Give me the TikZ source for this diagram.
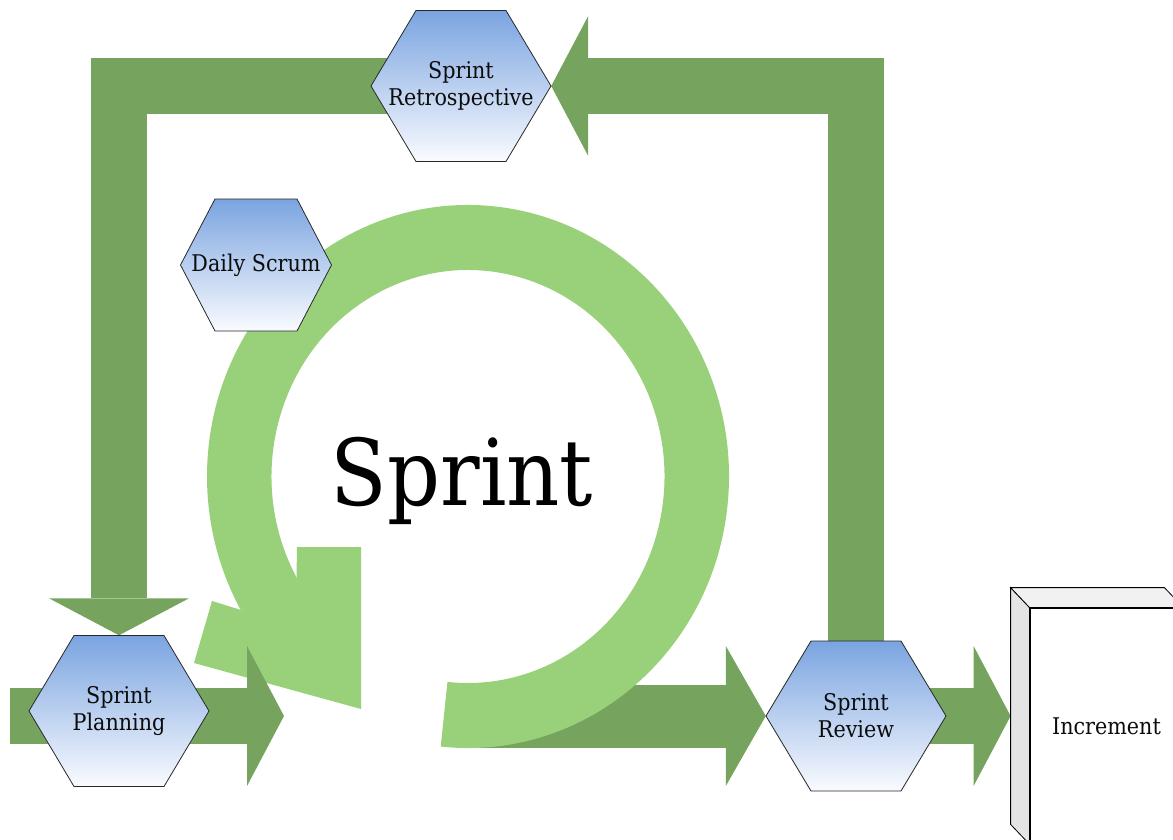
\documentclass[tikz,border=0pt]{standalone}
\usepackage{fontspec}
\setmainfont{DejaVu Serif}[FakeStretch=0.9]
\usetikzlibrary{arrows.meta,calc}

\pgfdeclarelayer{under}
\pgfsetlayers{under,main}

\definecolor{flowgreen}{RGB}{118,163,93}
\definecolor{ringgreen}{RGB}{153,208,122}
\definecolor{hextop}{RGB}{122,164,224}
\definecolor{hexbottom}{RGB}{250,251,255}
\definecolor{hexline}{RGB}{40,40,40}
\definecolor{sidegray}{RGB}{228,228,228}
\definecolor{topgray}{RGB}{241,241,241}
\definecolor{inkblack}{RGB}{12,12,12}

\tikzset{
  flow/.style={draw=flowgreen, line width=56pt, line cap=butt, line join=miter,
    -{Triangle[length=37pt,width=140pt,line width=0pt]}},
  hextext/.style={font=\fontsize{23}{27}\selectfont, align=center, text=inkblack,
    inner sep=0pt, shape=rectangle},
  hexshade/.style={top color=hextop, bottom color=hexbottom, draw=hexline, line width=0.8pt},
  incbox/.style={draw=black, fill=white, line width=0.8pt, inner sep=0pt,
    minimum width=153pt, minimum height=236pt, font=\fontsize{23}{27}\selectfont, text=inkblack},
  faceline/.style={draw=black, line width=0.8pt, line join=miter},
}

% hexagon with a flat top: name, x, y, half width, half top edge, half height, text
\newcommand\hexnode[7]{%
  \shade[hexshade] (#2-#4,#3) -- (#2-#5,#3-#6) -- (#2+#5,#3-#6) -- (#2+#4,#3)
    -- (#2+#5,#3+#6) -- (#2-#5,#3+#6) -- cycle;
  \node[hextext, minimum width=2*#4, minimum height=2*#6] (#1) at (#2,#3) {#7};
}

\begin{document}
\begin{tikzpicture}[x=1pt,y=-1pt]
\useasboundingbox (0,0) rectangle (1173,840);
\clip (0,0) rectangle (1173,840);

% events
\hexnode{retro}{461}{86}{90}{45}{75.5}{Sprint\\Retrospective}
\hexnode{daily}{256}{265}{75.5}{41}{66}{Daily Scrum}
\hexnode{planning}{119}{711}{90}{45}{75.5}{Sprint\\Planning}
\hexnode{review}{856}{716}{90}{45}{75}{Sprint\\Review}

\node[font=\fontsize{92}{100}\selectfont, text=black, anchor=base, inner sep=0pt]
  (sprint) at (462,505) {Sprint};

% increment box with its side and top faces
\node[incbox] (inc) at (1106.5,726) {Increment};
\path[faceline, fill=sidegray] (inc.north west) -- ++(-19,-20)
  -- ($(inc.south west)+(-19,-20)$) -- (inc.south west) -- cycle;
\path[faceline, fill=topgray] (inc.north west) -- ++(-19,-20)
  -- ($(inc.north east)+(-19,-20)$) -- (inc.north east) -- cycle;

\coordinate (feedin) at (10,716);
\coordinate (ringhead) at (284,716);
\coordinate (ringtail) at (470,716);
\coordinate (incface) at ($(inc.north west)+(-19,-20)$);

\begin{pgfonlayer}{under}
  % the sprint output towards the review
  \draw[flow, line width=63pt, -{Triangle[length=40pt,width=140pt,line width=0pt]}]
    (ringtail) -- (review.west);
  % the sprint cycle
  \fill[ringgreen] (468,476.5) ++(96:261 and 271.5)
    arc[start angle=96, end angle=-209.5, x radius=261, y radius=271.5]
    -- ($(468,476.5)+(-209.5:196.5 and 206.5)$)
    arc[start angle=-209.5, end angle=96, x radius=196.5, y radius=206.5] -- cycle;
  \fill[ringgreen] (296.5,578) -- (297,547) -- (361,547) -- (361,709)
    -- (194,663) -- (212,601) -- (241,610) -- cycle;
  % input through the planning
  \draw[flow] (feedin) -- (ringhead);
  % feedback loop
  \draw[flow] (review.center) |- (retro.east);
  \draw[flow] (retro.center) -| (planning.north);
  % result
  \draw[flow] (review.center) -- (review -| incface);
\end{pgfonlayer}
\end{tikzpicture}
\end{document}
